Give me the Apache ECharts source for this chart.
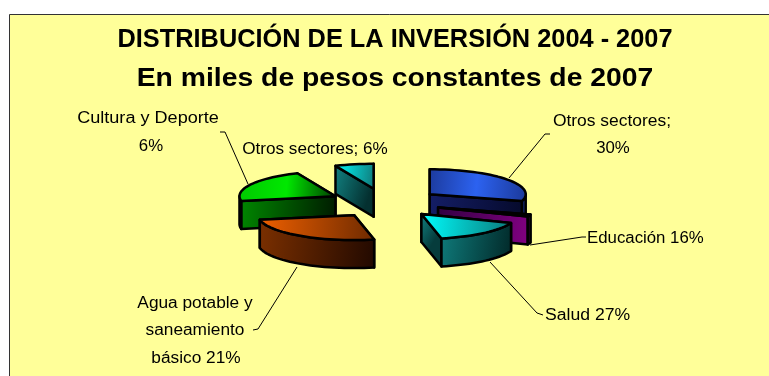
<!DOCTYPE html>
<html>
<head>
<meta charset="utf-8">
<style>html,body{margin:0;padding:0;background:#fff}#chart{width:769px;height:376px}</style>
<script src="https://cdn.jsdelivr.net/npm/echarts@6/dist/echarts.min.js"></script>
</head>
<body>
<div id="chart"></div>
<script>
var categories = ['Otros sectores', 'Educación', 'Salud', 'Agua potable y saneamiento básico', 'Cultura y Deporte', 'Otros sectores'];
// slice sizes as drawn in the picture (the printed percentages differ from them)
var shares = [29.4, 1.4, 15.8, 25.3, 21.5, 6.5];
var drawOrder = [5, 4, 0, 1, 3, 2];
var titleLines = ['DISTRIBUCIÓN DE LA INVERSIÓN 2004 - 2007', 'En miles de pesos constantes de 2007'];

// bright to dark, for the top, the cut faces and the outer wall
var topColors = [['#1c3a9c', '#2c62f0', '#1c3a9c'], ['#600060', '#400040'], ['#00ffff', '#0a7a7a'], ['#f06000', '#6e2a00'], ['#00c800', '#00e800', '#003c00'], ['#00ffff', '#0f7f7f']];
var faceColors = [['#141e66', '#060a2c'], ['#300040', '#800080'], ['#128484', '#063c3c'], ['#803000', '#200800'], ['#008800', '#001c00'], ['#128484', '#043030']];
var wallColors = [['#2440a8', '#14286e'], ['#800080', '#900090'], ['#0f7c7c', '#022c2c'], ['#7c3000', '#240a00'], ['#007000', '#004000'], ['#128484', '#043030']];

var cx = 385, cy = 203, rx = 96, tilt = 0.26, depth = 28, explode = 56;
var total = shares.reduce(function (a, b) { return a + b; }, 0);
var myChart = echarts.init(document.getElementById('chart'));

function pt(x, y, r, deg) {
  var a = deg * Math.PI / 180;
  return [x + r * Math.sin(a), y - r * tilt * Math.cos(a)];
}
function grad(c) {
  var stops = c.map(function (col, i) { return { offset: i / (c.length - 1), color: col }; });
  return new echarts.graphic.LinearGradient(0, 0, 1, 0.25, stops);
}
function down(p) { return [p[0], p[1] + depth]; }
function poly(points, fill) {
  return { type: 'polygon', shape: { points: points }, style: { fill: fill, stroke: '#000', lineWidth: 2.5, lineJoin: 'round' } };
}
function arc(x, y, from, to) {
  var out = [];
  for (var a = from; a < to; a += 3) out.push(pt(x, y, rx, a));
  out.push(pt(x, y, rx, to));
  return out;
}

function renderSlice(params, api) {
  var idx = api.value(0);
  var start = 0;
  for (var i = 0; i < idx; i++) start += shares[i] / total * 360;
  var end = start + shares[idx] / total * 360;
  var mid = (start + end) / 2;
  var apex = pt(cx, cy, explode, mid);
  var p1 = pt(apex[0], apex[1], rx, start);
  var p2 = pt(apex[0], apex[1], rx, end);
  var kids = [];
  var f1 = poly([apex, p1, down(p1), down(apex)], grad(faceColors[idx]));
  var f2 = poly([apex, p2, down(p2), down(apex)], grad(faceColors[idx]));
  if (p1[1] < p2[1]) kids.push(f1, f2); else kids.push(f2, f1);
  var w0 = Math.max(start, 90), w1 = Math.min(end, 270);
  if (w1 > w0) {
    var rim = arc(apex[0], apex[1], w0, w1);
    kids.push(poly(rim.concat(rim.slice().reverse().map(down)), grad(wallColors[idx])));
  }
  kids.push(poly([apex].concat(arc(apex[0], apex[1], start, end)), grad(topColors[idx])));
  return { type: 'group', children: kids };
}

function label(text, x, y, sx, align) {
  return { type: 'text', x: x, y: y, scaleX: sx, style: { text: text, fill: '#000', font: '16px "Liberation Sans"', textAlign: align || 'center', textVerticalAlign: 'middle' } };
}
function leader(points) {
  return { type: 'polyline', shape: { points: points }, style: { stroke: '#000', lineWidth: 1, fill: null } };
}
function headline(text, y, size, sx) {
  return { type: 'text', x: 395, y: y, scaleX: sx, style: { text: text, fill: '#000', font: 'bold ' + size + 'px "Liberation Sans"', textAlign: 'center', textVerticalAlign: 'middle' } };
}

myChart.setOption({
  animation: false,
  graphic: [
    { type: 'rect', z: -1, shape: { x: 9.5, y: 14.5, width: 800, height: 400 }, style: { fill: '#ffff99', stroke: '#333', lineWidth: 1 } },
    headline(titleLines[0], 40, 26, 0.975),
    headline(titleLines[1], 79, 26, 1.09),
    label('Cultura y Deporte', 148, 119, 1.13),
    label('6%', 151, 147, 1.05),
    label('Otros sectores; 6%', 315, 150, 1.07),
    label('Otros sectores;', 612, 122, 1.09),
    label('30%', 613, 149, 1.05),
    label('Educación 16%', 587, 239, 1.05, 'left'),
    label('Salud 27%', 545, 316, 1.1, 'left'),
    label('Agua potable y', 195, 304, 1.08),
    label('saneamiento', 195, 331, 1.08),
    label('básico 21%', 196, 359, 1.08),
    leader([[220, 132], [225, 132], [248, 184]]),
    leader([[550, 134], [545, 134], [509, 178]]),
    leader([[530, 245], [582, 237], [586, 237]]),
    leader([[490, 262], [537, 313], [543, 315]]),
    leader([[297, 267], [258, 329], [253, 330]])
  ],
  series: [{
    type: 'custom',
    coordinateSystem: 'none',
    renderItem: renderSlice,
    data: drawOrder.map(function (i) { return { name: categories[i], value: [i, shares[i]] }; })
  }]
});

window.addEventListener('resize', function () {
  myChart.resize();
});
</script>
</body>
</html>
